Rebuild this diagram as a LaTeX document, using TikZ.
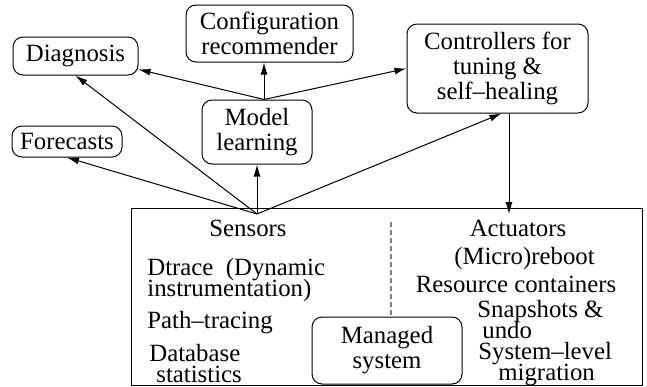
\documentclass[tikz,border=0pt]{standalone}
\usepackage{fontspec}
\setmainfont{Liberation Serif}
\usetikzlibrary{arrows.meta,positioning,calc}

\begin{document}
\begin{tikzpicture}[x=0.5pt, y=-0.5pt,
      box/.style={draw, rounded corners=5pt, line width=0.5pt,
                  align=center, inner sep=2pt,
                  font=\fontsize{12.4}{12.5}\selectfont},
      txt/.style={inner sep=0pt, font=\fontsize{12.4}{12.5}\selectfont},
      tight/.style={inner sep=0pt, align=left,
                    font={\fontsize{12.4}{10.5}\selectfont\lineskiplimit=-20pt\relax}},
      feed/.style={-{Latex[length=6pt,width=3.5pt]}, line width=0.5pt},
      divider/.style={gray, line width=0.6pt, dash pattern=on 2.5pt off 1.5pt}]

      \useasboundingbox (0,0) rectangle (647,386);

      \node[box, minimum width=62.5pt, minimum height=19pt]   (diag)    at (75.5,56)    {Diagnosis};
      \node[box, minimum width=55pt,   minimum height=15.5pt] (fcast)   at (67,141.5)   {Forecasts};
      \node[box, minimum width=83.5pt, minimum height=28.5pt] (cfg)     at (269.5,33.5) {Configuration\\recommender};
      \node[box, minimum width=55pt,   minimum height=32pt]   (model)   at (257,132)    {Model\\learning};
      \node[box, minimum width=90.5pt, minimum height=44.5pt] (ctrl)    at (497.5,68.5) {Controllers for\\tuning \&\\self--healing};

      \node[draw, line width=0.5pt, inner sep=0pt,
            minimum width=255.5pt, minimum height=88.5pt]     (host)    at (386.5,296.5) {};
      \node[box, minimum width=75pt,   minimum height=33.5pt] (managed) at (387,350.5)  {Managed\\system};

      \node[txt] (sens) at (248,228) {Sensors};
      \node[txt] (actu) at (518,228) {Actuators};
      \node[tight, anchor=west] (dtrace) at (147,280)   {Dtrace~~(Dynamic\\instrumentation)};
      \node[txt,   anchor=west] (path)   at (147,323)   {Path--tracing};
      \node[tight, anchor=west] (db)     at (149,364)   {Database\\\hspace{3.5pt}statistics};
      \node[txt] (reboot) at (524.5,259) {(Micro)reboot};
      \node[txt] (rc)     at (516,284)   {Resource containers};
      \node[tight, anchor=west] (snap)   at (477,320)   {Snapshots \&\\\hspace{2.5pt}undo};
      \node[tight, anchor=west] (migr)   at (478,364)   {System--level\\\hspace{10pt}migration};

      \coordinate (src)   at (257,214);
      \coordinate (act)   at (509,214);
      \coordinate (split) at (391,222);
      \coordinate (mtop)  at ([xshift=3.5pt]model.north);

      \foreach \dest in {fcast.south, diag.south, model.south, ctrl.-85}
        \draw[feed] (src) -- (\dest);
      \foreach \dest in {diag.-12, ctrl.west}
        \draw[feed] (mtop) -- (\dest);
      \draw[feed] (mtop) -- (mtop |- cfg.south);
      \draw[feed] (ctrl.south -| act) -- (act);
      \draw[divider] (split) -- (split |- managed.north);
    \end{tikzpicture}
\end{document}
